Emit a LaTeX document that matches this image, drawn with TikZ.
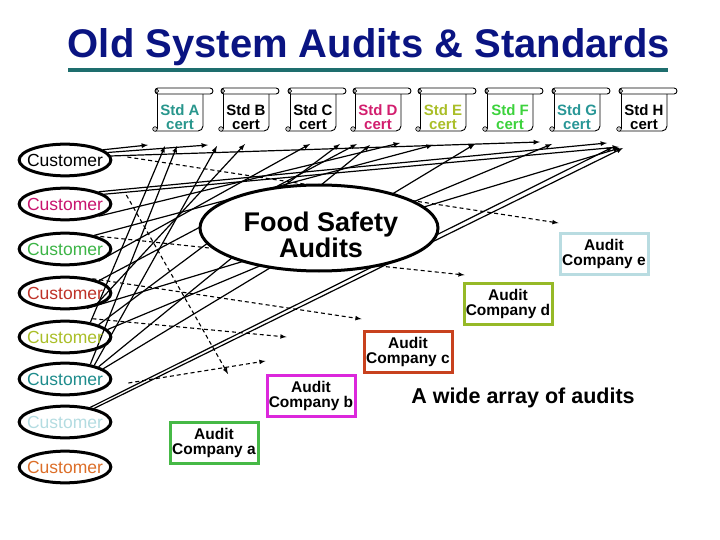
\documentclass[tikz,border=0pt]{standalone}
\usepackage{fontspec}
\setmainfont{Liberation Sans}
\usepackage{tikz}
\usetikzlibrary{shapes.geometric,calc}
\pgfdeclarelayer{myback}
\pgfsetlayers{myback,main}
\definecolor{titleblue}{RGB}{10,20,130}
\definecolor{rulegreen}{RGB}{30,110,110}
\definecolor{tealA}{RGB}{40,150,140}
\definecolor{pinkD}{RGB}{210,30,110}
\definecolor{limeE}{RGB}{170,190,40}
\definecolor{greenF}{RGB}{60,210,60}
\definecolor{tealG}{RGB}{40,150,150}
\definecolor{custB}{RGB}{200,20,110}
\definecolor{custC}{RGB}{60,180,70}
\definecolor{custD}{RGB}{190,50,40}
\definecolor{custE}{RGB}{170,190,40}
\definecolor{custF}{RGB}{30,140,140}
\definecolor{custG}{RGB}{180,220,225}
\definecolor{custH}{RGB}{220,110,40}
\definecolor{coE}{RGB}{185,220,225}
\definecolor{coD}{RGB}{150,185,40}
\definecolor{coC}{RGB}{200,65,30}
\definecolor{coB}{RGB}{220,40,220}
\definecolor{coA}{RGB}{70,185,70}
\tikzset{certbox/.style = {inner sep=0pt,align=center,
    text=#1,font=\bfseries\fontsize{15}{13.5}\selectfont},
  cust/.style = {ellipse,draw,line width=3pt,inner xsep=-5.5pt,inner ysep=5pt,
    text=#1,font=\fontsize{17.5}{18}\selectfont},
  company/.style = {draw=#1,line width=3pt,fill=white,minimum width=88pt,minimum height=41pt,
    inner sep=0pt,align=center,font=\bfseries\fontsize{15.5}{15.5}\selectfont},
  tocert/.style = {->,>=latex,line width=1.2pt},
  toaudit/.style = {->,>=latex,line width=1.1pt,dash pattern=on 4pt off 3pt}}
\NewDocumentCommand{\certscroll}{m}{%
\draw[line width=0.9pt] ($(#1.center)+(-23,-23)$) -- ($(#1.center)+(-23,12)$);
\draw[line width=0.9pt,rounded corners=5pt] ($(#1.center)+(-25,14)$) -- ($(#1.center)+(23,14)$) -- ($(#1.center)+(23,-23)$);
\draw[line width=0.9pt,fill=white,rounded corners=3pt] ($(#1.center)+(-25,-29)$) rectangle ($(#1.center)+(33,-23)$);
\draw[line width=0.6pt,fill=gray!40] ($(#1.center)+(-23,-26)$) circle (1.8pt);
\draw[line width=0.6pt,fill=gray!40] ($(#1.center)+(-25,12)$) circle (2.3pt);
}

\begin{document}
\begin{tikzpicture}[x=1pt,y=-1pt]
\useasboundingbox (0,0) rectangle (720,540);
\node[text=titleblue,font=\bfseries\fontsize{40}{41}\selectfont] (title) at (369,47) {Old System Audits \& Standards};
\draw[rulegreen,line width=4pt] (68,70) -- (668,70);

% standards
\foreach \nm/\xx/\col/\lt in {stdA/180/tealA/A,stdB/246/black/B,stdC/313/black/C,stdD/378/pinkD/D,
  stdE/443/limeE/E,stdF/510/greenF/F,stdG/577/tealG/G,stdH/644/black/H}{
  \node[certbox=\col] (\nm) at (\xx,117) {Std \lt\\cert};
  \certscroll{\nm}
}

% customers
\foreach \i/\yy/\col in {1/160/black,2/204/custB,3/249/custC,4/293/custD,5/337/custE,
  6/379/custF,7/422/custG,8/467/custH}{
  \node[cust=\col] (cu\i) at (65,\yy) {Customer};
}

\node[ellipse,draw,line width=3pt,fill=white,minimum width=238pt,minimum height=86pt] (fsa) at (319,228) {};
\node[align=center,font=\bfseries\fontsize{27}{26}\selectfont] (fsatext) at (321,235) {Food Safety\\Audits};

\node[company=coE] (coe) at (604,254) {Audit\\Company e};
\node[company=coD] (cod) at (508,304) {Audit\\Company d};
\node[company=coC] (coc) at (408,352) {Audit\\Company c};
\node[company=coB] (cob) at (311,396) {Audit\\Company b};
\node[company=coA] (coa) at (214,443) {Audit\\Company a};

\node[font=\bfseries\fontsize{21.5}{21.5}\selectfont] (wide) at (523,398) {A wide array of audits};

\begin{pgfonlayer}{myback}
% customer to standard
\draw[tocert] (cu1.15) -- ($(stdA.center)+(-32,28)$);
\draw[tocert] (cu1.10) -- ($(stdB.center)+(-38,28)$);
\draw[tocert] (cu1.5) -- ($(stdF.center)+(30,25)$);
\draw[tocert] (cu2.20) -- ($(stdG.center)+(30,26)$);
\draw[tocert] (cu2.14) -- ($(stdH.center)+(-25,30)$);
\draw[tocert] (cu2.-20) -- ($(stdD.center)+(22,26)$);
\draw[tocert] (cu3.25) -- ($(stdE.center)+(-10,28)$);
\draw[tocert] (cu3.-20) -- ($(stdC.center)+(-3,27)$);
\draw[tocert] (cu4.20) -- ($(stdD.center)+(-21,27)$);
\draw[tocert] (cu4.-35) -- ($(stdH.center)+(-24,31)$);
\draw[tocert] (cu4.-25) -- ($(stdB.center)+(-1,27)$);
\draw[tocert] (cu5.20) -- ($(stdC.center)+(27,27)$);
\draw[tocert] (cu5.10) -- ($(stdF.center)+(42,27)$);
\draw[tocert] (cu5.30) -- ($(stdA.center)+(-15,29)$);
\draw[tocert] (cu6.30) -- ($(stdA.center)+(-3,29)$);
\draw[tocert] (cu6.25) -- ($(stdB.center)+(-29,29)$);
\draw[tocert] (cu6.15) -- ($(stdE.center)+(32,27)$);
\draw[tocert] (cu6.20) -- ($(stdD.center)+(-8,28)$);
\draw[tocert] (cu7.30) -- ($(stdG.center)+(36,30)$);
\draw[tocert] (cu7.25) -- ($(stdH.center)+(-21,31)$);
% customer to audit company
\draw[toaudit] ($(cu1.east)+(15,-3)$) -- ($(coe.north west)+(0,-9)$);
\draw[toaudit] ($(cu3.north east)+(-5,-1)$) -- ($(cod.north west)+(2,-7)$);
\draw[toaudit] ($(cu4.north east)+(-6,-2)$) -- ($(coc.north west)+(-1,-11)$);
\draw[toaudit] ($(cu5.north east)+(-6,-6)$) -- ($(cob.north west)+(21,-37)$);
\draw[toaudit] ($(cu6.east)+(16,4)$) -- ($(cob.north west)+(0,-13)$);
\draw[toaudit] ($(cu2.east)+(14,-9)$) -- ($(coa.north)+(14,-47)$);
\end{pgfonlayer}
\end{tikzpicture}
\end{document}
